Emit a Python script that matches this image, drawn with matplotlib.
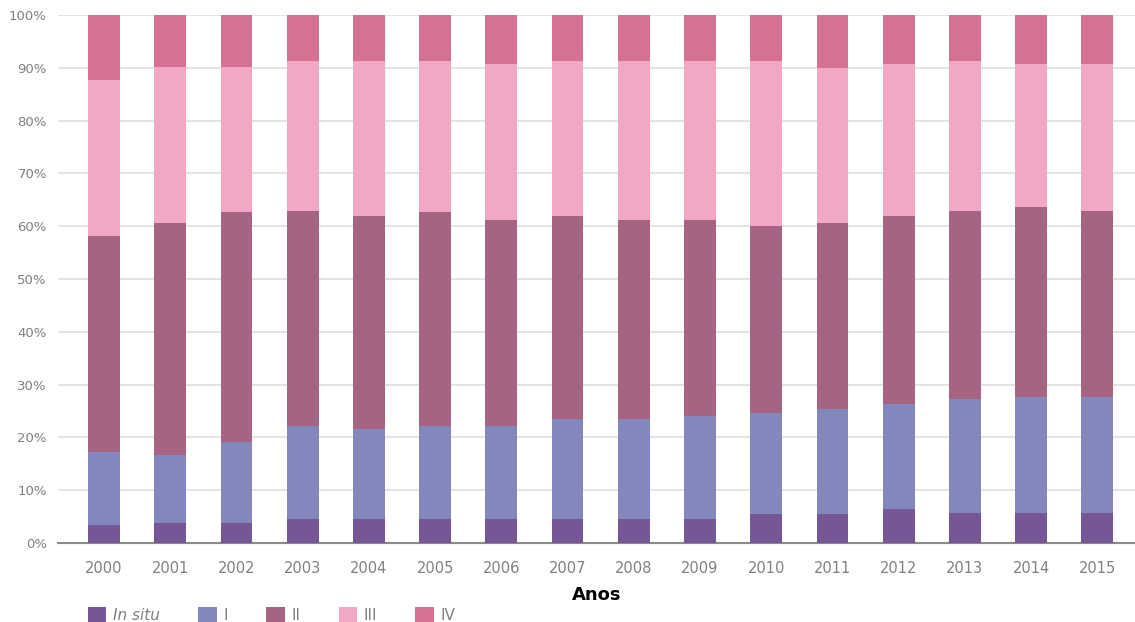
import matplotlib
matplotlib.use("Agg")
import matplotlib.pyplot as plt
import numpy as np

years = ["2000", "2001", "2002", "2003", "2004", "2005", "2006", "2007",
         "2008", "2009", "2010", "2011", "2012", "2013", "2014", "2015"]
in_situ = [3.5, 3.8, 3.8, 4.6, 4.6, 4.6, 4.6, 4.6, 4.6, 4.5, 5.4, 5.4, 6.4, 5.7, 5.7, 5.7]
stage_i = [13.8, 12.9, 15.3, 17.6, 16.9, 17.6, 17.6, 18.9, 18.9, 19.6, 19.3, 19.9, 20.0, 21.6, 22.0, 22.0]
stage_ii = [40.8, 43.9, 43.6, 40.7, 40.4, 40.4, 39.0, 38.4, 37.7, 37.1, 35.3, 35.3, 35.5, 35.6, 36.0, 35.2]
stage_iii = [29.5, 29.5, 27.4, 28.4, 29.4, 28.7, 29.5, 29.4, 30.1, 30.1, 31.3, 29.4, 28.8, 28.4, 27.0, 27.8]
stage_iv = [12.4, 9.9, 9.9, 8.7, 8.7, 8.7, 9.3, 8.7, 8.7, 8.7, 8.7, 10.0, 9.3, 8.7, 9.3, 9.3]

series = [in_situ, stage_i, stage_ii, stage_iii, stage_iv]
labels = ["In situ", "I", "II", "III", "IV"]
colors = ["#765796", "#8387bb", "#a56482", "#f2a8c4", "#d57293"]

plt.rcParams['font.family'] = ['DejaVu Sans']

fig = plt.figure(figsize=(11.35, 6.22), dpi=100)
ax = fig.add_axes([58/1135, 1-543/622, 1-58/1135, (543-15)/622])

x = np.arange(len(years))
tot = np.array([sum(s[i] for s in series) for i in range(len(years))])
bottom = np.zeros(len(years))
handles = []
for vals, lab, col in zip(series, labels, colors):
    v = np.array(vals) / tot * 100
    h = ax.bar(x, v, width=0.48, bottom=bottom, color=col, label=lab, zorder=3,
               edgecolor='none')
    handles.append(h)
    bottom += v

ax.set_ylim(0, 100)
ax.set_xlim(-0.695, 15.57)
ax.set_yticks(np.arange(0, 101, 10))
ax.set_yticklabels([f"{t}%" for t in range(0, 101, 10)])
ax.set_xticks(x)
ax.set_xticklabels(years)
ax.yaxis.grid(True, color='#dcdcdc', linewidth=1.1, zorder=0)
ax.set_axisbelow(True)
for s in ['top', 'right', 'left']:
    ax.spines[s].set_visible(False)
ax.spines['bottom'].set_color('#8a8a8a')
ax.spines['bottom'].set_linewidth(1.5)
ax.tick_params(axis='both', length=0, labelcolor='#808080')
ax.tick_params(axis='y', pad=8, labelsize=9.5)
ax.tick_params(axis='x', pad=13, labelsize=10.5)
ax.set_xlabel("Anos", fontsize=13, fontweight='bold', color='black', labelpad=7)

leg = fig.legend(handles=handles, labels=labels, ncol=5, loc='center left',
                 bbox_to_anchor=(88/1135, 1-615/622), frameon=False,
                 fontsize=11, handlelength=1.2, handleheight=1.2,
                 columnspacing=2.5, handletextpad=0.45, borderaxespad=0,
                 borderpad=0)
for t in leg.get_texts():
    t.set_color('#808080')
leg.get_texts()[0].set_fontstyle('italic')

fig.savefig("out.png", dpi=100)
